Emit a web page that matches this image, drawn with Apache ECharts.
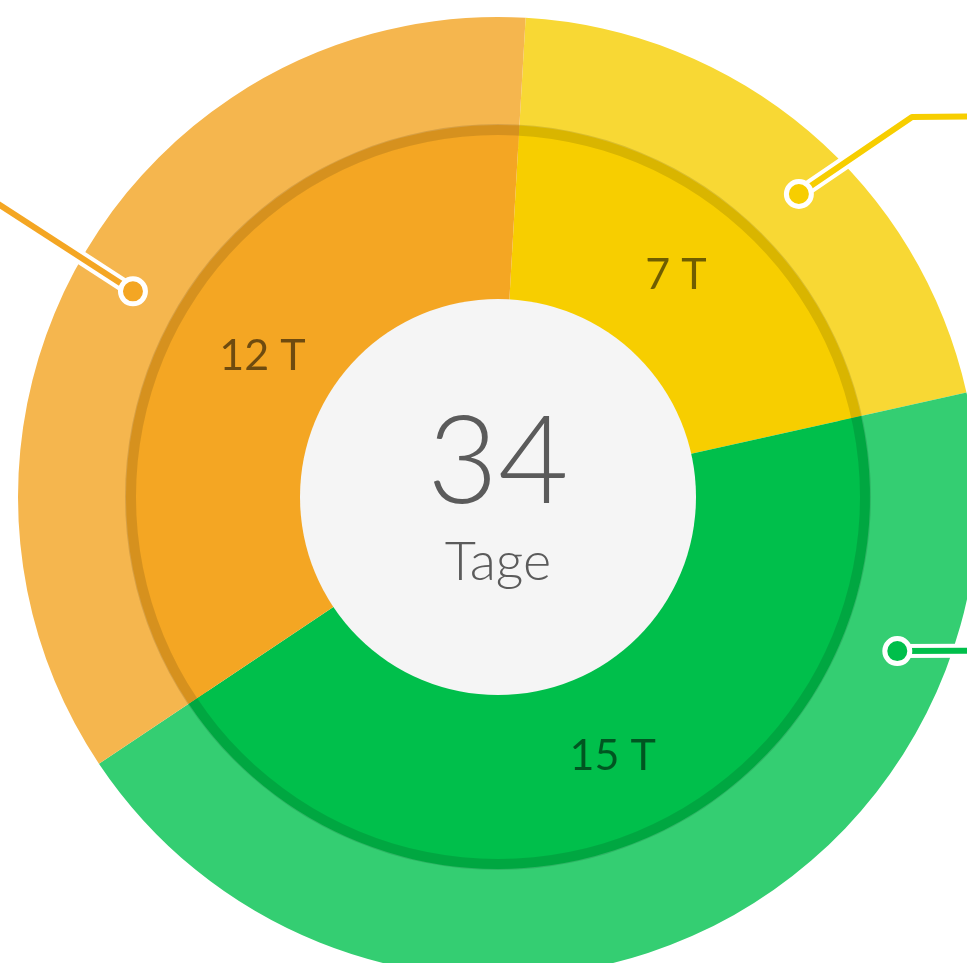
<!DOCTYPE html>
<html>
<head>
<meta charset="utf-8">
<style>
  html, body { margin: 0; padding: 0; background: #fff; }
  #chart { width: 967px; height: 963px; }
</style>
<script src="https://cdn.jsdelivr.net/npm/echarts@6/dist/echarts.min.js"></script>
</head>
<body>
<div id="chart"></div>
<script>
// segment data (clockwise, starting just right of 12 o'clock)
var segmentNames = ['Gelb', 'Grün', 'Orange'];
var segmentDays = [7, 15, 12];
var unitLabel = 'T';
var centerCaption = 'Tage';

var innerColors = ['#F7CE00', '#00BF4B', '#F4A623'];
var outerColors = ['#F8D834', '#34CE72', '#F5B64E'];

// leader lines as [radius px, angle deg clockwise from top]
var leaderYellow = [[427, 44.8], [562, 47.45], [640, 53.5]];
var leaderGreen = [[428, 111.1], [535, 106.7]];
var leaderOrange = [[419, 299.4], [660, 300.7]];
var leaders = [leaderYellow, leaderGreen, leaderOrange];

var total = segmentDays.reduce(function (a, b) { return a + b; }, 0);
var center = [498, 497];
var startAngle = 86.7;
var polarReach = 900; // polar radius in px == radius axis max, so 1 unit = 1 px

var chart = echarts.init(document.getElementById('chart'));

function pieData(colors) {
    return segmentDays.map(function (v, i) {
        return { name: segmentNames[i], value: v, itemStyle: { color: colors[i] } };
    });
}

var noLabel = { show: false };

// small hand nudges so the day labels sit where the original has them
var labelItems = pieData(['rgba(0,0,0,0)', 'rgba(0,0,0,0)', 'rgba(0,0,0,0)']);
labelItems[0].label = { offset: [-6, -5] };
labelItems[1].label = { offset: [3, -2] };
labelItems[2].label = { offset: [11, 0] };

var series = [
    {
        // outer light ring (runs under the inner ring to avoid a seam)
        type: 'pie', silent: true, center: center, radius: [350, 480],
        startAngle: startAngle, z: 1,
        itemStyle: { borderWidth: 0 },
        label: noLabel, labelLine: noLabel,
        data: pieData(outerColors)
    },
    {
        // inner ring
        type: 'pie', silent: true, center: center, radius: [190, 372],
        startAngle: startAngle, z: 2,
        itemStyle: { borderWidth: 0 },
        label: noLabel, labelLine: noLabel,
        data: pieData(innerColors)
    },
    {
        // darker band on the inner ring edge
        type: 'pie', silent: true, center: center, radius: [362, 373], z: 3,
        itemStyle: { borderWidth: 0, color: 'rgba(0,0,0,0.12)' },
        label: noLabel, labelLine: noLabel,
        data: [{ value: 1 }]
    },
    {
        // day labels, placed mid-way across the visible inner band
        type: 'pie', silent: true, center: center, radius: [198, 364],
        startAngle: startAngle, z: 4,
        itemStyle: { borderWidth: 0, color: 'rgba(0,0,0,0)' },
        label: {
            show: true, position: 'inside',
            formatter: '{c} ' + unitLabel,
            fontFamily: 'Lato', fontSize: 43, color: 'rgba(0,0,0,0.55)'
        },
        labelLine: noLabel,
        data: labelItems
    },
    {
        // centre disc with total
        type: 'pie', silent: true, center: center, radius: [0, 198], z: 3,
        itemStyle: { borderWidth: 0, color: '#F5F5F5' },
        label: {
            show: true, position: 'center',
            formatter: '{num|' + total + '}\n{cap|' + centerCaption + '}',
            rich: {
                num: { fontFamily: 'Lato', fontWeight: 300, fontSize: 122, color: '#5B5B5B', lineHeight: 132, padding: [0, 0, 2, 0] },
                cap: { fontFamily: 'Lato', fontWeight: 300, fontSize: 54, color: '#5B5B5B', lineHeight: 64 }
            }
        },
        labelLine: noLabel,
        data: [{ value: 1 }]
    }
];

// leader lines: white outline first, then coloured core
leaders.forEach(function (pts) {
    series.push({
        type: 'line', coordinateSystem: 'polar', silent: true, clip: false, z: 5,
        symbol: 'none', lineStyle: { color: '#fff', width: 14, cap: 'butt' },
        data: pts
    });
});
leaders.forEach(function (pts, i) {
    series.push({
        type: 'line', coordinateSystem: 'polar', silent: true, clip: false, z: 6,
        symbol: 'none', lineStyle: { color: innerColors[i], width: 6 },
        data: pts
    });
});
series.push({
    type: 'scatter', coordinateSystem: 'polar', silent: true, z: 7,
    symbolSize: 25,
    data: leaders.map(function (pts, i) {
        return { value: pts[0], itemStyle: { color: innerColors[i], borderColor: '#fff', borderWidth: 5, opacity: 1 } };
    })
});

chart.setOption({
    animation: false,
    backgroundColor: '#fff',
    polar: { center: center, radius: polarReach },
    angleAxis: { type: 'value', min: 0, max: 360, startAngle: 90, clockwise: true, show: false },
    radiusAxis: { type: 'value', min: 0, max: polarReach, show: false },
    series: series
});
</script>
</body>
</html>
